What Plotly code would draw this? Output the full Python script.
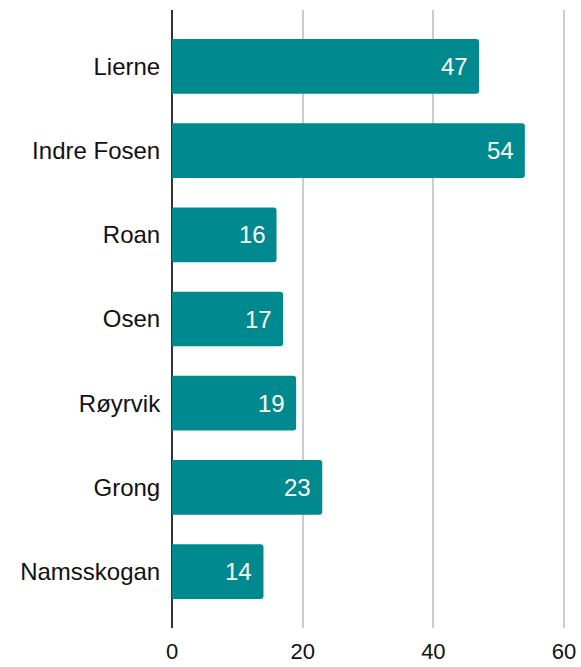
import plotly.graph_objects as go

categories = ["Lierne", "Indre Fosen", "Roan", "Osen", "Røyrvik", "Grong", "Namsskogan"]
values = [47, 54, 16, 17, 19, 23, 14]
x_ticks = [0, 20, 40, 60]

color = "#008A8F"
font_family = "Liberation Sans, Arial"

fig = go.Figure()
fig.add_trace(go.Bar(
    y=categories, x=values, orientation="h",
    marker=dict(color=color, line=dict(width=0)),
    width=0.65,
    hoverinfo="skip",
))

for c, v in zip(categories, values):
    fig.add_annotation(x=v, y=c, text=str(v), showarrow=False,
                       xanchor="right", xshift=-9,
                       font=dict(family=font_family, size=24, color="white"))

fig.update_layout(
    width=581, height=667,
    margin=dict(l=172, r=15, t=10, b=39),
    plot_bgcolor="white", paper_bgcolor="white",
    showlegend=False,
    barcornerradius=3,
    font=dict(family=font_family, size=24, color="#111"),
)
fig.update_xaxes(range=[0, 60.3], tickvals=x_ticks, showgrid=True, gridcolor="#cccccc", gridwidth=2,
                 zeroline=True, zerolinecolor="#333333", zerolinewidth=2,
                 ticks="outside", ticklen=4, tickcolor="rgba(0,0,0,0)",
                 tickfont=dict(size=22, color="#111"), automargin=False)
fig.update_yaxes(categoryorder="array", categoryarray=categories, range=[6.67, -0.67],
                 showgrid=False, ticks="outside", ticklen=6, tickcolor="rgba(0,0,0,0)",
                 tickfont=dict(size=24, color="#111"), automargin=False)

fig.write_html("out.html",
               config={"displayModeBar": False},
               post_script="document.body.style.margin='0';document.body.style.overflow='hidden';")
